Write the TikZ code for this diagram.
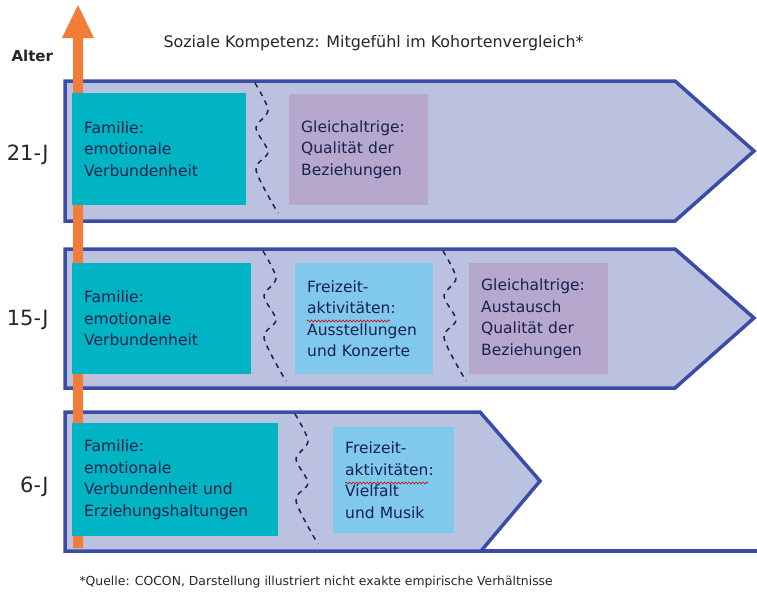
\documentclass[tikz,border=0pt]{standalone}
\usepackage{fontspec}
\setmainfont{DejaVu Sans}
\usetikzlibrary{decorations.pathmorphing}
\definecolor{cohortframe}{RGB}{58,76,166}
\definecolor{cohortfill}{RGB}{186,194,224}
\definecolor{familyteal}{RGB}{0,180,196}
\definecolor{leisureblue}{RGB}{128,200,236}
\definecolor{peerviolet}{RGB}{182,167,205}
\definecolor{ageorange}{RGB}{242,124,58}
\definecolor{ink}{RGB}{24,34,78}
\tikzset{
  cohort/.style={draw=cohortframe,line width=3.5pt,fill=cohortfill,line join=miter},
  field/.style={anchor=north west,inner xsep=12pt,inner ysep=0pt,align=left,text=ink,
    font=\fontsize{15.5}{21.5}\selectfont,minimum height=#1},
  agelabel/.style={anchor=east,font=\fontsize{21}{25}\selectfont,text=black!85},
  seam/.style={draw=ink,line width=1.5pt,dash pattern=on 5pt off 5pt},
  seamline/.pic={\draw[seam] plot[smooth] coordinates {(0,0) (13,27) (1,45) (13,69) (1,87) (23,130)};},
  spellwave/.style={draw=red!80!black,line width=0.6pt,decorate,
    decoration={snake,amplitude=1pt,segment length=3.5pt}}
}
\begin{document}
\begin{tikzpicture}[x=1pt,y=-1pt]
  \useasboundingbox (0,0) rectangle (757,592);
  \node[anchor=west,font=\bfseries\fontsize{15}{18}\selectfont,text=black!85] (alter) at (8,56) {Alter};
  \node[anchor=west,font=\fontsize{15.9}{18}\selectfont,text=black!85] (title) at (160,43) {Soziale Kompetenz: Mitgefühl im Kohortenvergleich*};
  \draw[cohort] (65,81) -- (675,81) -- (754,151) -- (675,221) -- (65,221) -- cycle;
  \draw[cohort] (65,249) -- (675,249) -- (754,318) -- (675,388) -- (65,388) -- cycle;
  \draw[cohort] (65,412) -- (480,412) -- (540,481) -- (481,551) -- (65,551) -- cycle;
  \draw[draw=cohortframe,line width=3.5pt] (481,551) -- (757,551);
  \fill[ageorange] (73,548) --++(0,-510) --++(-11,0) --++(16,-33) --++(16,33) --++(-11,0) --++(0,510) -- cycle;
  \node[field=112pt,fill=familyteal,text width=150pt] (fam21) at (72,93) {Familie:\\emotionale\\Verbundenheit};
  \node[field=111pt,fill=peerviolet,text width=115pt] (peer21) at (289,94) {Gleichaltrige:\\Qualität der\\Beziehungen};
  \node[field=111pt,fill=familyteal,text width=155pt] (fam15) at (72,263) {Familie:\\emotionale\\Verbundenheit};
  \node[field=111pt,fill=leisureblue,text width=114pt] (leis15) at (295,263) {Freizeit-\\aktivitäten:\\Ausstellungen\\und Konzerte};
  \node[field=111pt,fill=peerviolet,text width=115pt] (peer15) at (469,263) {Gleichaltrige:\\Austausch\\Qualität der\\Beziehungen};
  \node[field=113pt,fill=familyteal,text width=182pt] (fam6) at (72,423) {Familie:\\emotionale\\Verbundenheit und\\Erziehungshaltungen};
  \node[field=106pt,fill=leisureblue,text width=97pt] (leis6) at (333,427) {Freizeit-\\aktivitäten:\\Vielfalt\\und Musik};
  \draw[spellwave] (307,321) -- (390,321);
  \draw[spellwave] (345,483) -- (428,483);
  \pic at (255,83) {seamline};
  \pic at (263,251) {seamline};
  \pic at (443,251) {seamline};
  \pic at (295,414) {seamline};
  \node[agelabel] (age21) at (52,155) {21-J};
  \node[agelabel] (age15) at (52,320) {15-J};
  \node[agelabel] (age6) at (52,487) {6-J};
  \node[anchor=west,font=\fontsize{12.4}{14}\selectfont,text=black!85] (source) at (76,582) {*Quelle: COCON, Darstellung illustriert nicht exakte empirische Verhältnisse};
\end{tikzpicture}
\end{document}
